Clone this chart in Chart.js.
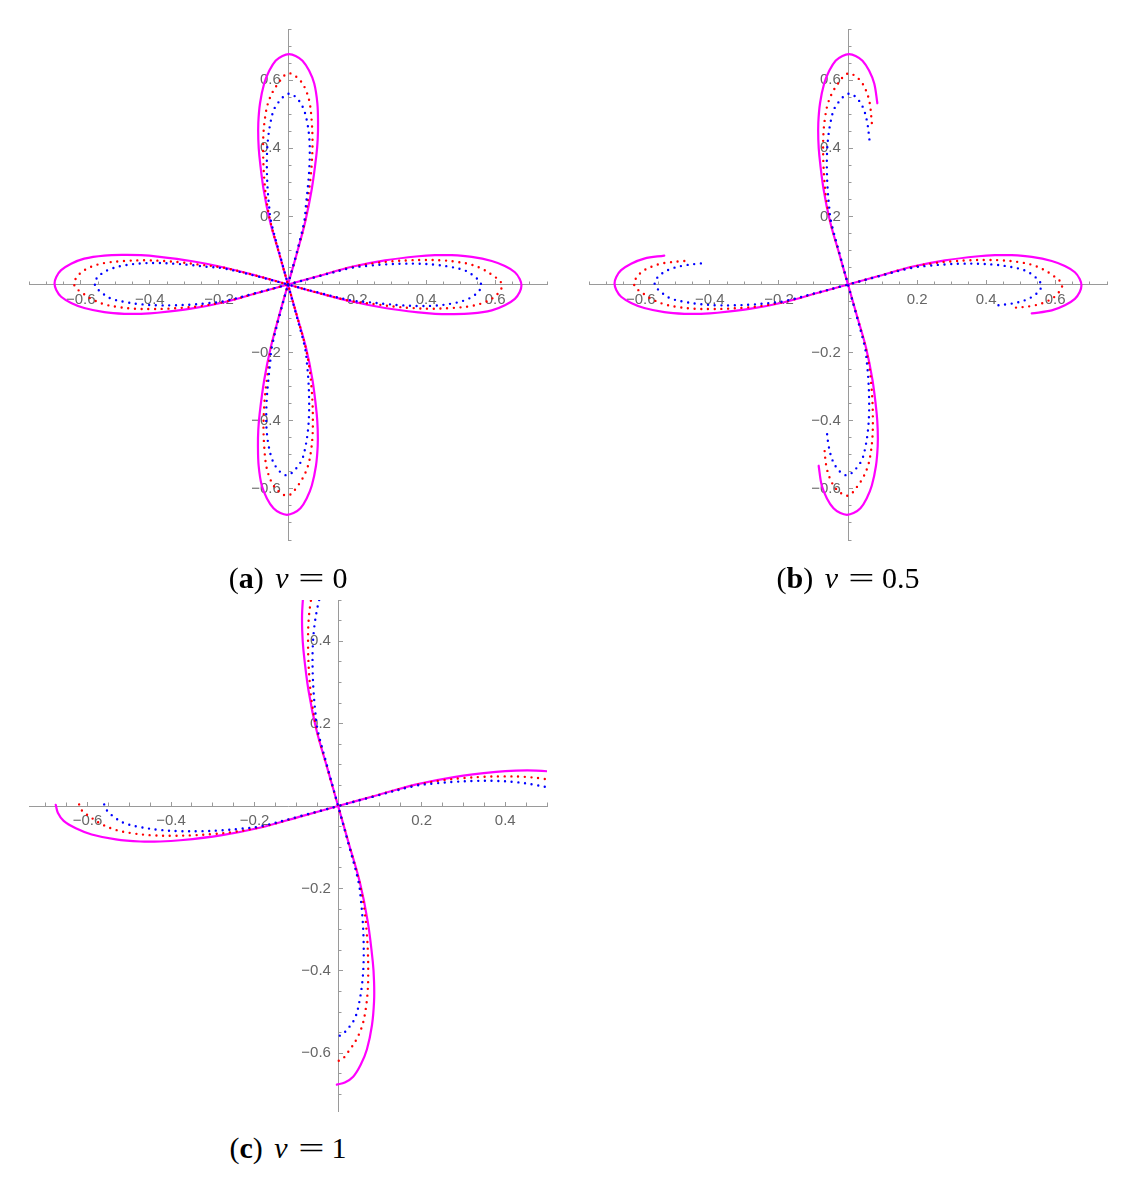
<!DOCTYPE html>
<html>
<head>
<meta charset="utf-8">
<script src="https://cdn.jsdelivr.net/npm/chart.js@4.4.1/dist/chart.umd.min.js"></script>
<style>
  body { margin: 0; background: #fff; }
  #page { position: relative; width: 1140px; height: 1188px; overflow: hidden; }
  canvas { position: absolute; }
  .cap { position: absolute; width: 400px; text-align: center; font-family: "Liberation Serif", serif;
         font-size: 30px; line-height: 30px; color: #000; white-space: nowrap; }
  .cap i { margin-left: 4px; }
  .eq { display: inline-block; margin: 0 12px 0 15px; transform: scaleX(1.55); }
</style>
</head>
<body>
<div id="page">
  <canvas id="chartA" width="570" height="560" style="left:0;top:0;width:570px;height:560px"></canvas>
  <canvas id="chartB" width="570" height="560" style="left:560px;top:0;width:570px;height:560px"></canvas>
  <canvas id="chartC" width="570" height="560" style="left:0;top:571px;width:570px;height:560px"></canvas>
  <div class="cap" style="left:88px;top:563px">(<b>a</b>) <i>v</i><span class="eq">=</span>0</div>
  <div class="cap" style="left:648px;top:563px">(<b>b</b>) <i>v</i><span class="eq">=</span>0.5</div>
  <div class="cap" style="left:88px;top:1133px">(<b>c</b>) <i>v</i><span class="eq">=</span>1</div>
</div>
<script>
// curve points; each leaf is "out" (origin -> tip) and "back" (tip -> origin)
// magenta, solid
const magRightOut = [[0,0],[0.089,0.025],[0.185,0.052],[0.281,0.071],[0.378,0.083],[0.426,0.086],[0.474,0.086],[0.532,0.081],[0.590,0.069],[0.628,0.054],[0.657,0.036],[0.671,0.016],[0.676,-0.003]];
const magRightBack = [[0.676,-0.003],[0.671,-0.022],[0.657,-0.042],[0.628,-0.061],[0.590,-0.076],[0.532,-0.085],[0.474,-0.087],[0.426,-0.086],[0.378,-0.082],[0.281,-0.069],[0.185,-0.050],[0.089,-0.025],[0,0]];
const magLeftOut = [[0,0],[-0.089,0.025],[-0.185,0.050],[-0.281,0.069],[-0.378,0.082],[-0.426,0.086],[-0.474,0.087],[-0.532,0.085],[-0.590,0.076],[-0.628,0.061],[-0.657,0.042],[-0.671,0.022],[-0.676,0.003]];
const magLeftBack = [[-0.676,0.003],[-0.671,-0.016],[-0.657,-0.036],[-0.628,-0.054],[-0.590,-0.069],[-0.532,-0.081],[-0.474,-0.086],[-0.426,-0.086],[-0.378,-0.083],[-0.281,-0.071],[-0.185,-0.052],[-0.089,-0.025],[0,0]];
const magTopOut = [[0,0],[0.025,0.089],[0.050,0.185],[0.069,0.281],[0.082,0.378],[0.086,0.426],[0.087,0.474],[0.085,0.532],[0.076,0.590],[0.061,0.628],[0.042,0.657],[0.022,0.671],[0.003,0.676]];
const magTopBack = [[0.003,0.676],[-0.016,0.671],[-0.036,0.657],[-0.054,0.628],[-0.069,0.590],[-0.081,0.532],[-0.086,0.474],[-0.086,0.426],[-0.083,0.378],[-0.071,0.281],[-0.052,0.185],[-0.025,0.089],[0,0]];
const magBottomOut = [[0,0],[0.025,-0.089],[0.052,-0.185],[0.071,-0.281],[0.083,-0.378],[0.086,-0.426],[0.086,-0.474],[0.081,-0.532],[0.069,-0.590],[0.054,-0.628],[0.036,-0.657],[0.016,-0.671],[-0.003,-0.676]];
const magBottomBack = [[-0.003,-0.676],[-0.022,-0.671],[-0.042,-0.657],[-0.061,-0.628],[-0.076,-0.590],[-0.085,-0.532],[-0.087,-0.474],[-0.086,-0.426],[-0.082,-0.378],[-0.069,-0.281],[-0.050,-0.185],[-0.025,-0.089],[0,0]];

// red, dotted
const redRightOut = [[0,0],[0.089,0.025],[0.185,0.051],[0.252,0.063],[0.301,0.068],[0.349,0.071],[0.397,0.072],[0.445,0.071],[0.493,0.066],[0.532,0.058],[0.566,0.044],[0.594,0.026],[0.614,0.010],[0.620,-0.004]];
const redRightBack = [[0.620,-0.004],[0.614,-0.018],[0.597,-0.037],[0.570,-0.052],[0.532,-0.063],[0.474,-0.069],[0.416,-0.071],[0.358,-0.069],[0.310,-0.065],[0.262,-0.059],[0.185,-0.049],[0.089,-0.025],[0,0]];
const redLeftOut = [[0,0],[-0.089,0.025],[-0.185,0.049],[-0.262,0.059],[-0.310,0.065],[-0.358,0.069],[-0.416,0.071],[-0.474,0.069],[-0.532,0.063],[-0.570,0.052],[-0.597,0.037],[-0.614,0.018],[-0.620,0.004]];
const redLeftBack = [[-0.620,0.004],[-0.614,-0.010],[-0.594,-0.026],[-0.566,-0.044],[-0.532,-0.058],[-0.493,-0.066],[-0.445,-0.071],[-0.397,-0.072],[-0.349,-0.071],[-0.301,-0.068],[-0.252,-0.063],[-0.185,-0.051],[-0.089,-0.025],[0,0]];
const redTopOut = [[0,0],[0.025,0.089],[0.049,0.185],[0.059,0.262],[0.065,0.310],[0.069,0.358],[0.071,0.416],[0.069,0.474],[0.063,0.532],[0.052,0.570],[0.037,0.597],[0.018,0.614],[0.004,0.620]];
const redTopBack = [[0.004,0.620],[-0.010,0.614],[-0.026,0.594],[-0.044,0.566],[-0.058,0.532],[-0.066,0.493],[-0.071,0.445],[-0.072,0.397],[-0.071,0.349],[-0.068,0.301],[-0.063,0.252],[-0.051,0.185],[-0.025,0.089],[0,0]];
const redBottomOut = [[0,0],[0.025,-0.089],[0.051,-0.185],[0.063,-0.252],[0.068,-0.301],[0.071,-0.349],[0.072,-0.397],[0.071,-0.445],[0.066,-0.493],[0.058,-0.532],[0.044,-0.566],[0.026,-0.594],[0.010,-0.614],[-0.004,-0.620]];
const redBottomBack = [[-0.004,-0.620],[-0.018,-0.614],[-0.037,-0.597],[-0.052,-0.570],[-0.063,-0.532],[-0.069,-0.474],[-0.071,-0.416],[-0.069,-0.358],[-0.065,-0.310],[-0.059,-0.262],[-0.049,-0.185],[-0.025,-0.089],[0,0]];

// blue, dotted
const blueRightOut = [[0,0],[0.089,0.024],[0.185,0.049],[0.233,0.055],[0.281,0.059],[0.329,0.061],[0.378,0.061],[0.426,0.058],[0.474,0.051],[0.513,0.041],[0.537,0.026],[0.554,0.010],[0.560,-0.004]];
const blueRightBack = [[0.560,-0.004],[0.554,-0.018],[0.538,-0.033],[0.513,-0.046],[0.474,-0.056],[0.426,-0.062],[0.378,-0.063],[0.329,-0.061],[0.281,-0.057],[0.233,-0.052],[0.185,-0.047],[0.089,-0.024],[0,0]];
const blueLeftOut = [[0,0],[-0.089,0.024],[-0.185,0.047],[-0.233,0.052],[-0.281,0.057],[-0.329,0.061],[-0.378,0.063],[-0.426,0.062],[-0.474,0.056],[-0.513,0.046],[-0.538,0.033],[-0.554,0.018],[-0.560,0.004]];
const blueLeftBack = [[-0.560,0.004],[-0.554,-0.010],[-0.537,-0.026],[-0.513,-0.041],[-0.474,-0.051],[-0.426,-0.058],[-0.378,-0.061],[-0.329,-0.061],[-0.281,-0.059],[-0.233,-0.055],[-0.185,-0.049],[-0.089,-0.024],[0,0]];
const blueTopOut = [[0,0],[0.024,0.089],[0.047,0.185],[0.052,0.233],[0.057,0.281],[0.061,0.329],[0.063,0.378],[0.062,0.426],[0.056,0.474],[0.046,0.513],[0.033,0.538],[0.018,0.554],[0.004,0.560]];
const blueTopBack = [[0.004,0.560],[-0.010,0.554],[-0.026,0.537],[-0.041,0.513],[-0.051,0.474],[-0.058,0.426],[-0.061,0.378],[-0.061,0.329],[-0.059,0.281],[-0.055,0.233],[-0.049,0.185],[-0.024,0.089],[0,0]];
const blueBottomOut = [[0,0],[0.024,-0.089],[0.049,-0.185],[0.055,-0.233],[0.059,-0.281],[0.061,-0.329],[0.061,-0.378],[0.058,-0.426],[0.051,-0.474],[0.041,-0.513],[0.026,-0.537],[0.010,-0.554],[-0.004,-0.560]];
const blueBottomBack = [[-0.004,-0.560],[-0.018,-0.554],[-0.033,-0.538],[-0.046,-0.513],[-0.056,-0.474],[-0.062,-0.426],[-0.063,-0.378],[-0.061,-0.329],[-0.057,-0.281],[-0.052,-0.233],[-0.047,-0.185],[-0.024,-0.089],[0,0]];

// in (b) each open end stops this many points past the tip
const cutB = 6;

// axis ranges and labelled ticks
const rangeAB = [-0.75, 0.75];
const rangeC = [-0.74, 0.5];
const majorStep = 0.2;
const minorStep = 0.05;

const curves = {
  magenta: { R: [magRightOut, magRightBack], L: [magLeftOut, magLeftBack], T: [magTopOut, magTopBack], B: [magBottomOut, magBottomBack] },
  red:     { R: [redRightOut, redRightBack], L: [redLeftOut, redLeftBack], T: [redTopOut, redTopBack], B: [redBottomOut, redBottomBack] },
  blue:    { R: [blueRightOut, blueRightBack], L: [blueLeftOut, blueLeftBack], T: [blueTopOut, blueTopBack], B: [blueBottomOut, blueBottomBack] }
};

// glue segments that share end points
function join(segs) {
  let out = [];
  segs.forEach(s => { out = out.concat(out.length ? s.slice(1) : s); });
  return out.map(p => ({ x: p[0], y: p[1] }));
}

function pieces(c, panel) {
  const { R, L, T, B } = curves[c];
  if (panel === 'a') return [join([R[0], R[1], L[0], L[1]]), join([T[0], T[1], B[0], B[1]])];
  if (panel === 'b') return [join([L[0].slice(-cutB), L[1], R[0], R[1].slice(0, cutB)]),
                             join([T[0].slice(-cutB), T[1], B[0], B[1].slice(0, cutB)])];
  return [join([L[1], R[0]]), join([T[1], B[0]])];
}

const styles = {
  blue:    { color: '#0000ff', dash: [0, 6.7], width: 2.4 },
  red:     { color: '#ff0000', dash: [0, 6.7], width: 2.4 },
  magenta: { color: '#ff00ff', dash: [], width: 2.2 }
};

function datasets(panel) {
  const out = [];
  ['blue', 'red', 'magenta'].forEach(c => {
    pieces(c, panel).forEach(pts => {
      out.push({
        data: pts,
        xAxisID: 'x', yAxisID: 'y',
        showLine: true,
        borderColor: styles[c].color,
        borderWidth: styles[c].width,
        borderDash: styles[c].dash,
        borderCapStyle: 'round',
        borderJoinStyle: 'round',
        pointRadius: 0,
        tension: 0.35,
        fill: false
      });
    });
  });
  return out;
}

function fmt(v) {
  if (Math.abs(v) < 1e-9) return '';
  return (v < 0 ? '\u2212' : '') + Math.abs(v).toFixed(1);
}

function scale(axis, range, major) {
  return {
    type: 'linear',
    axis: axis,
    min: range[0], max: range[1],
    position: axis === 'x' ? { y: 0 } : { x: 0 },
    afterFit: s => { if (axis === 'x') s.height = 0; else s.width = 0; },
    border: { display: major, color: '#9a9a9a', width: 1 },
    grid: { drawOnChartArea: false, drawTicks: true, tickLength: major ? -5 : -3.5, color: '#9a9a9a', tickColor: '#9a9a9a', tickWidth: 1 },
    ticks: {
      display: major,
      stepSize: major ? majorStep : minorStep,
      includeBounds: !major && range[0] === -0.75,
      autoSkip: false, maxRotation: 0, minRotation: 0,
      padding: 11,
      color: '#666',
      font: { family: 'Liberation Sans', size: 15 },
      callback: v => axis === 'y' ? (fmt(v) ? fmt(v) + ' \u2009' : '') : fmt(v)
    }
  };
}

function makeChart(id, panel, range) {
  new Chart(document.getElementById(id), {
    type: 'scatter',
    data: { datasets: datasets(panel) },
    options: {
      responsive: false,
      animation: false,
      events: [],
      layout: { padding: { left: 29, top: 29, right: 23, bottom: 13 } },
      elements: { line: { capBezierPoints: false } },
      plugins: { legend: { display: false }, tooltip: { enabled: false } },
      scales: {
        x: scale('x', range, true),
        y: scale('y', range, true),
        x2: scale('x', range, false),
        y2: scale('y', range, false)
      }
    }
  });
}

makeChart('chartA', 'a', rangeAB);
makeChart('chartB', 'b', rangeAB);
makeChart('chartC', 'c', rangeC);
</script>
</body>
</html>
